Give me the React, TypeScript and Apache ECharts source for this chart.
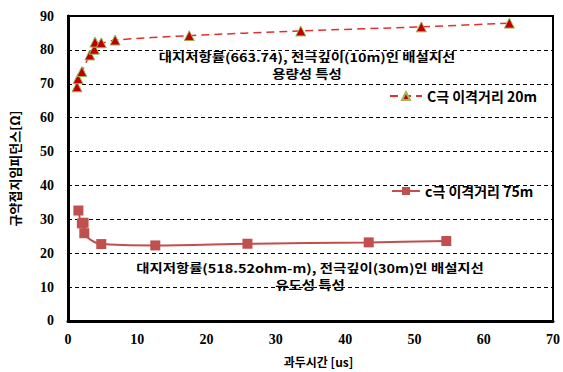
import React, { useEffect, useRef } from "react";
import * as echarts from "echarts";

// Transient time [us] vs. conventional grounding impedance [Ω]
const seriesNames = ["C극 이격거리 20m", "c극 이격거리 75m"];

// C-electrode separation 20 m (capacitive behaviour)
const time20 = [1.3, 1.45, 2.0, 3.15, 3.8, 3.9, 4.8, 6.8, 17.5, 33.6, 51.0, 63.7];
const imp20 = [69.1, 71.5, 73.6, 78.5, 80.2, 82.3, 82.1, 82.9, 84.2, 85.6, 86.8, 87.9];

// C-electrode separation 75 m (inductive behaviour)
const time75 = [1.5, 2.0, 2.25, 2.35, 4.8, 12.6, 25.9, 43.4, 54.6];
const imp75 = [32.6, 28.8, 29.0, 25.9, 22.7, 22.3, 22.8, 23.2, 23.6];

const xAxisTitle = "과두시간 [us]";
const yAxisTitle = "규약접지임피던스[Ω]";
const note20 = ["대지저항률(663.74), 전극깊이(10m)인 배설지선", "용량성 특성"];
const note75 = ["대지저항률(518.52ohm-m), 전극깊이(30m)인 배설지선", "유도성 특성"];

const KR = "'Noto Sans CJK KR', sans-serif";
const NUM = "'Liberation Serif', 'DejaVu Serif', serif";

export default function App() {
  const ref = useRef<HTMLDivElement>(null);

  useEffect(() => {
    if (!ref.current) return;
    const chart = echarts.init(ref.current, undefined, { renderer: "svg" });

    const pair = (xs: number[], ys: number[]) => xs.map((x, i) => [x, ys[i]]);

    const legendText = { fontFamily: KR, fontWeight: "bold", fontSize: 14, color: "#000" };

    // one text element per annotation line, stretched horizontally
    const noteLine = (text: string, x: number, y: number) => ({
      type: "text",
      x,
      y,
      scaleX: 1.2,
      style: {
        text,
        align: "center",
        verticalAlign: "middle",
        fontFamily: KR,
        fontWeight: "bold",
        fontSize: 12,
        fill: "#000",
      },
    });

    chart.setOption({
      animation: false,
      backgroundColor: "#ffffff",
      grid: {
        left: 67,
        right: 8,
        top: 16,
        bottom: 44,
        show: true,
        borderColor: "#000",
        borderWidth: 2,
      },
      xAxis: {
        type: "value",
        min: 0,
        max: 70,
        interval: 10,
        name: xAxisTitle,
        nameLocation: "middle",
        nameGap: 34,
        nameTextStyle: { fontFamily: KR, fontWeight: "bold", fontSize: 12, color: "#000", padding: [0, 0, 0, 16] },
        axisLine: { lineStyle: { color: "#000", width: 3 } },
        axisTick: { show: false },
        splitLine: { show: false },
        axisLabel: { fontFamily: NUM, fontWeight: "bold", fontSize: 14, color: "#000", margin: 12 },
      },
      yAxis: {
        type: "value",
        min: 0,
        max: 90,
        interval: 10,
        name: yAxisTitle,
        nameLocation: "middle",
        nameGap: 47,
        nameRotate: 90,
        nameTextStyle: { fontFamily: KR, fontWeight: "bold", fontSize: 13, color: "#000" },
        axisLine: { lineStyle: { color: "#000", width: 3 } },
        axisTick: { show: false },
        splitLine: { lineStyle: { color: "#000", type: [4, 3], width: 1 } },
        axisLabel: { fontFamily: NUM, fontWeight: "bold", fontSize: 14, color: "#000", margin: 14 },
      },
      legend: [
        {
          data: [seriesNames[0]],
          left: 384,
          top: 84,
          itemWidth: 32,
          itemHeight: 10,
          itemGap: 4,
          textStyle: legendText,
        },
        {
          data: [seriesNames[1]],
          left: 386,
          top: 179,
          itemWidth: 28,
          itemHeight: 10,
          itemGap: 4,
          textStyle: legendText,
        },
      ],
      series: [
        {
          name: seriesNames[0],
          type: "line",
          smooth: 0.3,
          data: pair(time20, imp20),
          symbol: "triangle",
          symbolSize: 10,
          lineStyle: { color: "#e03030", width: 1.5, type: [8, 5] },
          itemStyle: { color: "#c00000", borderColor: "#9bbb59", borderWidth: 1 },
        },
        {
          name: seriesNames[1],
          type: "line",
          smooth: 0.3,
          data: pair(time75, imp75),
          symbol: "rect",
          symbolSize: 10,
          lineStyle: { color: "#c0504d", width: 2 },
          itemStyle: { color: "#c0504d", borderColor: "#c0504d", borderWidth: 0 },
        },
      ],
      graphic: [
        noteLine(note20[0], 307, 57),
        noteLine(note20[1], 307, 74),
        noteLine(note75[0], 310, 268),
        noteLine(note75[1], 310, 285),
      ],
    });

    return () => chart.dispose();
  }, []);

  return <div ref={ref} style={{ width: 563, height: 372, position: "absolute", left: 0, top: 0 }} />;
}
